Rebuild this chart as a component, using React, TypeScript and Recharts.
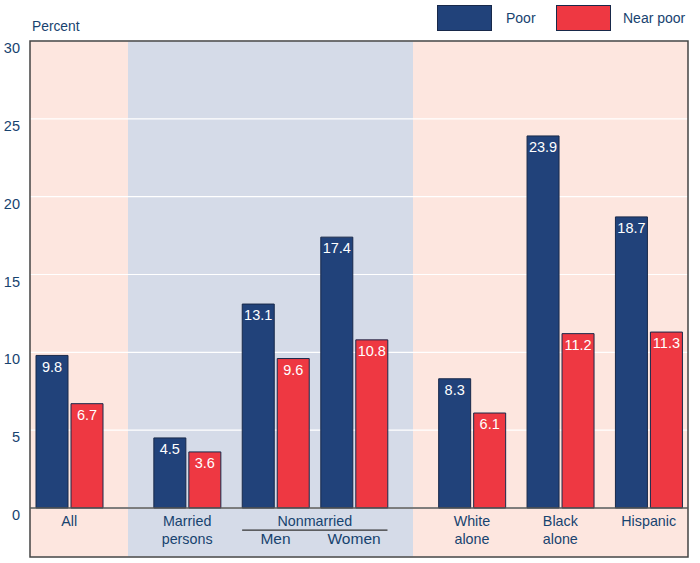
import React from 'react';
import {
  ComposedChart, Bar, XAxis, YAxis, CartesianGrid, ReferenceArea, ReferenceLine, LabelList, Legend,
} from 'recharts';

// ---- data ----
const categories = ['All', 'Married persons', 'Men', 'Women', 'White alone', 'Black alone', 'Hispanic'];
const poorValues = [9.8, 4.5, 13.1, 17.4, 8.3, 23.9, 18.7];
const nearPoorValues = [6.7, 3.6, 9.6, 10.8, 6.1, 11.2, 11.3];
const yTicks = [0, 5, 10, 15, 20, 25, 30];
const labelLines = [['All'], ['Married', 'persons'], ['Men'], ['Women'], ['White', 'alone'], ['Black', 'alone'], ['Hispanic']];
const seriesNames = ['Poor', 'Near poor'];

// ---- layout (slot units along the x axis) ----
const slots = [4, 16, 25, 33, 45, 54, 63];
const X_MAX = 67;
const Y_MIN = -3.15;
const Y_MAX = 30;
const HALF_GROUP = 3.4;
const bandEdges = [0, (slots[0] + slots[1]) / 2, (slots[3] + slots[4]) / 2];

const data = categories.map((c, i) => ({
  pos: slots[i],
  name: c,
  poor: poorValues[i],
  nearPoor: nearPoorValues[i],
}));

const FONT = '"Liberation Sans", Arial, Helvetica, sans-serif';
const TEXT = '#17436f';
const POOR = '#21427a';
const NEAR = '#ee3842';
const EDGE = '#18294a';
const PINK = '#fde6df';
const BLUE = '#d5dbe8';

const renderXTick = (props: any) => {
  const { x, y, payload } = props;
  const i = slots.indexOf(Number(payload && payload.value));
  if (i < 0) return <g />;
  const big = i === 2 || i === 3;
  const lines = labelLines[i];
  return (
    <g>
      {lines.map((l, k) => (
        <text
          key={k}
          x={x}
          y={y - 31 + (big ? 17.5 : 0) + k * 17.5}
          textAnchor="middle"
          fill={TEXT}
          fontSize={big ? 15.5 : 14.3}
          fontFamily={FONT}
        >
          {l}
        </text>
      ))}
    </g>
  );
};

const stripeGenerator = (args: any) => {
  const { xAxis, offset } = args;
  if (xAxis && typeof xAxis.scale === 'function') {
    return bandEdges.map((v) => xAxis.scale(v));
  }
  return bandEdges.map((v) => offset.left + (offset.width * v) / X_MAX);
};

const LegendContent = () => (
  <div style={{ display: 'flex', alignItems: 'center', fontFamily: FONT, fontSize: 14, color: TEXT }}>
    <div style={{ width: 53, height: 24, background: POOR, border: `1px solid ${EDGE}` }} />
    <span style={{ marginLeft: 14, width: 50 }}>{seriesNames[0]}</span>
    <div style={{ width: 53, height: 24, background: NEAR, border: `1px solid ${EDGE}` }} />
    <span style={{ marginLeft: 12 }}>{seriesNames[1]}</span>
  </div>
);

export default function App() {
  return (
    <div style={{ position: 'absolute', left: 0, top: 0, width: 700, height: 563, background: '#fff', fontFamily: FONT }}>
      <div style={{ position: 'absolute', left: 32, top: 19, fontSize: 13.8, color: TEXT, fontFamily: FONT }}>Percent</div>
      <ComposedChart
        width={700}
        height={563}
        data={data}
        margin={{ top: 41, right: 12, bottom: 4, left: 0 }}
        barGap={3}
      >
        <CartesianGrid
          horizontal={false}
          vertical={true}
          stroke="none"
          verticalFill={[PINK, BLUE, PINK]}
          fillOpacity={1}
          verticalCoordinatesGenerator={stripeGenerator}
        />
        <CartesianGrid vertical={false} stroke="#ffffff" strokeWidth={1.2} />
        <XAxis
          dataKey="pos"
          type="number"
          domain={[0, X_MAX]}
          ticks={slots}
          interval={0}
          height={2}
          axisLine={false}
          tickLine={false}
          tickSize={0}
          tickMargin={0}
          tick={renderXTick}
        />
        <YAxis
          type="number"
          domain={[Y_MIN, Y_MAX]}
          ticks={yTicks}
          width={30}
          axisLine={false}
          tickLine={false}
          tickSize={3}
          tickMargin={7}
          tick={{ fill: TEXT, fontSize: 14.5, fontFamily: FONT, dy: 7 }}
        />
        <Legend
          verticalAlign="middle"
          align="center"
          layout="horizontal"
          content={<LegendContent />}
          wrapperStyle={{ position: 'absolute', top: 5, left: 437, width: 260, height: 26 }}
        />
        <Bar dataKey="poor" name={seriesNames[0]} fill={POOR} stroke={EDGE} strokeWidth={1} barSize={32} isAnimationActive={false}>
          <LabelList dataKey="poor" position="insideTop" offset={6} fill="#ffffff" fontSize={14.5} fontFamily={FONT} />
        </Bar>
        <Bar dataKey="nearPoor" name={seriesNames[1]} fill={NEAR} stroke={EDGE} strokeWidth={1} barSize={32} isAnimationActive={false}>
          <LabelList dataKey="nearPoor" position="insideTop" offset={6} fill="#ffffff" fontSize={14.5} fontFamily={FONT} />
        </Bar>
        <ReferenceLine y={0} stroke="#555555" strokeWidth={1.5} />
        <ReferenceLine
          segment={[
            { x: slots[2] - HALF_GROUP, y: -1.42 },
            { x: slots[3] + HALF_GROUP, y: -1.42 },
          ]}
          stroke="#333333"
          strokeWidth={1.3}
          label={{ value: 'Nonmarried', position: 'top', offset: 4, fill: TEXT, fontSize: 14.3, fontFamily: FONT }}
        />
        <ReferenceArea x1={0} x2={X_MAX} y1={Y_MIN} y2={Y_MAX} fill="none" stroke="#444444" strokeWidth={1.5} />
      </ComposedChart>
    </div>
  );
}
